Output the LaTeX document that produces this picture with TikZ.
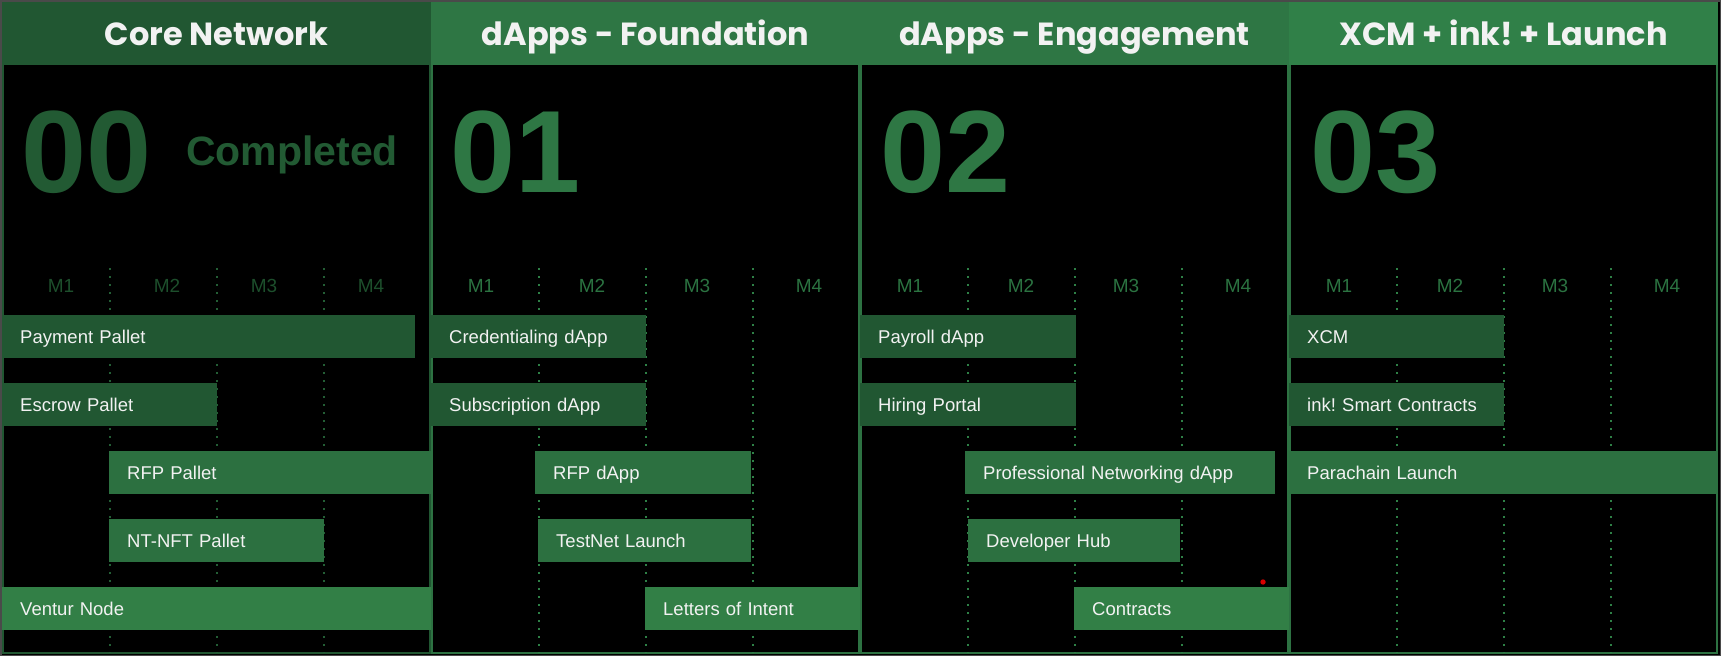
\documentclass[tikz,border=0pt]{standalone}
\usepackage{fontspec}
\setmainfont{Liberation Sans}
\newfontfamily\headfont{Poppins}
\frenchspacing
\definecolor{gdark}{HTML}{215732}
\definecolor{gmid}{HTML}{2C7040}
\definecolor{glight}{HTML}{327F46}
\definecolor{ghead}{HTML}{2E7644}
\definecolor{gheadb}{HTML}{308048}
\definecolor{gnum}{HTML}{2E7744}
\definecolor{gnumdark}{HTML}{225A33}
\definecolor{gmonthdark}{HTML}{1D4F2C}
\definecolor{gmonth}{HTML}{2B7341}
\definecolor{gdot}{HTML}{2E8046}
\definecolor{gdotdark}{HTML}{235E35}
\definecolor{gframe}{HTML}{2D7242}
\definecolor{txtwhite}{HTML}{F2F2F2}
\definecolor{edge}{HTML}{4A4A4A}

% one task bar: name, colour, left x, right x, top y, label
\newcommand\taskbar[6]{%
  \pgfmathsetmacro\tbw{#4-#3-36}%
  \node[taskbox, fill=#2, text width=\tbw pt, anchor=north west] (#1) at (#3,#5) {#6};}

\begin{document}
\begin{tikzpicture}[x=1pt, y=-1pt,
  headbox/.style={minimum width=429, minimum height=63, inner sep=0, anchor=north west},
  headtext/.style={font=\headfont\bfseries\fontsize{32}{32}\selectfont, text=txtwhite, anchor=base, inner sep=0},
  bignum/.style={font=\bfseries\fontsize{117}{117}\selectfont, anchor=base west, inner sep=0},
  month/.style={font=\fontsize{19}{19}\selectfont, anchor=base, inner sep=0},
  taskbox/.style={minimum height=43, inner xsep=18, inner ysep=0, align=left,
    text height=13.5pt, text depth=0pt, text=txtwhite,
    font=\fontsize{18.5}{18.5}\selectfont},
  frame/.style={draw=gframe, line width=2},
  dots/.style={draw=gdot, line width=2.4, dash pattern=on 2.4 off 5.6}
]
\useasboundingbox (0,0) rectangle (1721,656);
\fill[black] (0,0) rectangle (1721,656);
\draw[edge, line width=1.5] (0.75,0.75) rectangle (1720.25,655.25);

% column headers
\node[headbox, fill=gdark] (h0) at (2,2) {};
\node[headbox, fill=ghead] (h1) at (431,2) {};
\node[headbox, fill=ghead] (h2) at (860,2) {};
\node[headbox, fill=gheadb] (h3) at (1289,2) {};
\node[headtext] (t0) at (216.5,45) {Core Network};
\node[headtext] (t1) at (645.5,45) {dApps - Foundation};
\node[headtext] (t2) at (1074.5,45) {dApps - Engagement};
\node[headtext] (t3) at (1503.5,45) {XCM + ink! + Launch};

% column frames
\draw[frame, draw=gdark] (3,65) -- (3,653) -- (430,653) -- (430,65);
\draw[frame] (432,65) -- (432,653) -- (859,653) -- (859,65);
\draw[frame] (861,65) -- (861,653) -- (1288,653) -- (1288,65);
\draw[frame] (1290,65) -- (1290,653) -- (1717,653) -- (1717,65);

% month separators
\foreach \dx in {108,215,322}
  \draw[dots, draw=gdotdark] (2+\dx,268) -- (2+\dx,653);
\foreach \px in {431,860,1289}
  \foreach \dx in {108,215,322}
    \draw[dots] (\px+\dx,268) -- (\px+\dx,653);

% phase numbers
\node[bignum, text=gnumdark] (n0) at (21,192) {00};
\node[font=\bfseries\fontsize{41}{41}\selectfont, text=gnumdark, anchor=base west, inner sep=0] (done) at (186,165) {Completed};
\node[bignum, text=gnum] (n1) at (450,192) {01};
\node[bignum, text=gnum] (n2) at (880,192) {02};
\node[bignum, text=gnum] (n3) at (1310,192) {03};

% month labels
\node[month, text=gmonthdark] (m01) at (61,292) {M1};
\node[month, text=gmonthdark] (m02) at (167,292) {M2};
\node[month, text=gmonthdark] (m03) at (264,292) {M3};
\node[month, text=gmonthdark] (m04) at (371,292) {M4};
\foreach \px/\c in {431/1,860/2,1289/3}{
  \node[month, text=gmonth] (m\c1) at (\px+50,292) {M1};
  \node[month, text=gmonth] (m\c2) at (\px+161,292) {M2};
  \node[month, text=gmonth] (m\c3) at (\px+266,292) {M3};
  \node[month, text=gmonth] (m\c4) at (\px+378,292) {M4};
}

% Core Network
\taskbar{payp}{gdark}{2}{415}{315}{Payment Pallet}
\taskbar{escp}{gdark}{2}{217}{383}{Escrow Pallet}
\taskbar{rfpp}{gmid}{109}{431}{451}{RFP Pallet}
\taskbar{ntnft}{gmid}{109}{324}{519}{NT-NFT Pallet}
\taskbar{vnode}{glight}{2}{431}{587}{Ventur Node}

% dApps - Foundation
\taskbar{cred}{gdark}{431}{646}{315}{Credentialing dApp}
\taskbar{subs}{gdark}{431}{646}{383}{Subscription dApp}
\taskbar{rfpd}{gmid}{535}{751}{451}{RFP dApp}
\taskbar{tnet}{gmid}{538}{751}{519}{TestNet Launch}
\taskbar{loi}{glight}{645}{860}{587}{Letters of Intent}

% dApps - Engagement
\taskbar{payr}{gdark}{860}{1076}{315}{Payroll dApp}
\taskbar{hire}{gdark}{860}{1076}{383}{Hiring Portal}
\taskbar{pnet}{gmid}{965}{1275}{451}{Professional Networking dApp}
\taskbar{devh}{gmid}{968}{1180}{519}{Developer Hub}
\taskbar{cont}{glight}{1074}{1289}{587}{Contracts}

% XCM + ink! + Launch
\taskbar{xcm}{gdark}{1289}{1504}{315}{XCM}
\taskbar{ink}{gdark}{1289}{1504}{383}{ink! Smart Contracts}
\taskbar{para}{gmid}{1289}{1718}{451}{Parachain Launch}

\fill[red!85!black] (1263,582) circle (2.7);
\end{tikzpicture}
\end{document}
